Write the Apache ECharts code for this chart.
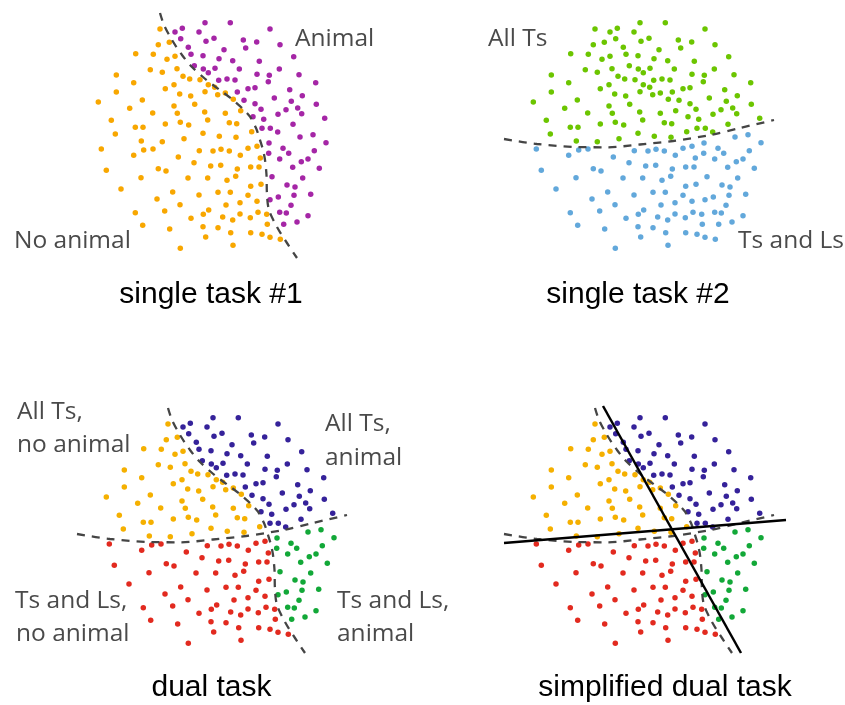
<!DOCTYPE html>
<html><head><meta charset="utf-8">
<script src="https://cdn.jsdelivr.net/npm/echarts@6/dist/echarts.min.js"></script>
<style>html,body{margin:0;padding:0;background:#fff}#c{width:845px;height:705px}</style>
</head><body><div id="c"></div>
<script>
// Shared point cloud (same cloud in every panel), grouped by dual-task class.
// Coordinates are in the dual-task panel's pixel frame.
const dualOrange = [ // All Ts, no animal
[168.0,424.0],[177.3,437.3],[166.3,439.7],[143.7,448.7],[161.3,449.3],[183.0,451.3],[175.0,454.3],[158.3,464.7],[170.3,467.3],[185.0,463.7],
[124.3,470.0],[191.0,471.3],[197.7,474.0],[208.0,474.7],[141.7,477.7],[182.0,479.7],[173.3,483.7],[216.3,479.7],[213.0,486.7],[124.3,487.0],
[187.7,489.0],[198.7,491.0],[150.3,495.0],[106.3,497.0],[182.0,501.0],[202.7,499.3],[137.7,503.3],[160.7,508.0],[185.3,508.3],[212.7,507.0],
[119.3,515.3],[173.3,519.0],[188.3,517.3],[196.7,520.0],[215.7,515.0],[143.3,522.3],[151.0,522.3],
[222.7,482.3],[225.7,489.7],[233.3,488.0],[241.3,494.3],[233.3,508.3],[248.7,505.7],[237.3,517.7],[244.7,518.7],
[123.3,529.0],[149.3,536.0],[170.3,536.7],[192.0,533.7],[211.0,528.3],[227.3,531.3],[244.0,532.3],[259.7,526.7]
];
const dualPurple = [ // All Ts, animal
[190.3,423.3],[213.0,417.7],[183.0,427.0],[207.0,427.0],[188.7,433.7],[214.0,436.3],[196.3,442.3],[199.0,449.3],[211.0,450.7],[202.3,460.7],
[211.3,464.0],[216.3,467.7],
[238.3,417.7],[278.0,424.0],[222.0,433.3],[251.3,435.0],[264.7,437.0],[288.0,439.7],[253.7,443.0],[232.0,444.7],[301.7,451.7],[227.0,453.7],
[240.7,455.7],[267.3,456.3],[223.0,463.3],[247.3,464.0],[287.3,464.0],[265.0,469.3],[277.3,470.3],[307.0,469.7],[226.7,475.3],[235.0,474.0],
[243.0,475.0],[276.3,476.7],[323.7,477.7],[256.0,483.7],[263.0,482.7],[297.7,484.7],[245.3,487.0],[282.3,493.0],[310.3,490.7],[252.0,495.3],
[299.3,496.3],[263.0,498.7],[324.3,499.3],[269.0,504.3],[294.0,504.7],[305.7,503.0],[309.7,508.7],[286.0,509.3],[261.0,511.7],[271.7,514.3],
[332.7,513.3],[301.0,519.3],[270.0,523.3],[278.3,523.3],[285.7,527.0]
];
const dualRed = [ // Ts and Ls, no animal
[109.3,544.0],[141.7,550.3],[151.7,545.0],[161.0,544.0],[186.3,552.0],[207.3,545.7],[202.0,557.7],[218.7,561.0],[114.3,565.3],[166.3,563.7],
[174.0,566.0],[149.0,572.7],[196.0,573.0],[215.7,573.0],[129.0,584.0],[180.7,587.0],[207.0,590.0],[165.0,594.0],[188.0,599.7],[143.3,607.7],
[172.7,606.0],[216.7,605.0],[211.3,609.3],[199.0,613.3],[150.7,620.3],[177.7,624.0],[211.0,621.7],[213.7,632.0],[188.3,643.3],
[221.0,546.0],[229.0,544.3],[237.3,546.0],[256.0,543.3],[265.0,541.3],[248.3,550.3],[268.3,553.0],[228.7,560.3],[245.3,564.0],[258.7,562.0],
[267.0,562.0],[243.7,571.3],[235.0,575.3],[269.0,579.3],[258.7,581.3],[226.0,587.3],[238.3,587.3],[256.0,590.3],[265.0,596.3],[248.0,597.7],
[234.0,600.0],[266.0,607.3],[248.0,609.0],[274.7,609.3],[230.7,612.0],[258.3,612.7],[240.7,615.0],[275.3,619.3],[226.0,622.7],[238.7,627.7],
[258.7,627.7],[270.0,629.3],[278.0,632.3],[288.3,634.3],[241.0,640.3]
];
const dualGreen = [ // Ts and Ls, animal
[308.0,532.0],[321.0,529.7],[334.0,537.7],[277.0,538.0],[291.0,543.3],[322.3,545.7],[276.7,548.3],[296.7,548.3],[287.7,554.0],[309.3,556.7],
[316.0,554.0],[300.7,562.3],[327.3,563.3],[280.0,571.7],[310.7,573.0],[295.0,580.0],[303.0,582.0],[302.0,590.3],[318.7,589.3],[286.3,592.0],
[278.0,594.7],[299.0,600.3],[287.7,607.3],[294.3,608.0],[316.0,610.7],[305.0,617.0],[291.7,619.3]
];
// Decision boundaries
const boundaryAnimal = [[168,408],[172,420],[180,435],[190,450],[200,462],[211,472],[221,480],[232,488],[241,495],[250,503],[258,511.7],
  [264,523],[268,535],[271,545],[273,555],[274.5,570],[275,590],[277,605],[285,622],[295,638],[305,653]];
const boundaryTs = [[77,534],[110,539],[150,542],[180,542.3],[213,539.5],[246,536],[283,530],[313,523],[347,515]];
const simplifiedAnimal = [[176,406],[314,653]];
const simplifiedTs = [[77,543],[359,520]];

const panelTitles = ['single task #1', 'single task #2', 'dual task', 'simplified dual task'];
const panelLabels = [
  [['Animal', 295, 49], ['No animal', 14, 251]],
  [['All Ts', 488, 49], ['Ts and Ls', 738, 251]],
  [['All Ts,', 17, 422], ['no animal', 17, 455], ['All Ts,', 325, 434], ['animal', 325, 468],
   ['Ts and Ls,', 15, 611], ['no animal', 16, 644], ['Ts and Ls,', 337, 611], ['animal', 337, 644]],
  []
];
const titlePos = [[211, 305], [638, 305], [211.5, 698], [665, 698]];

const C = {
  orange1: '#F8A700', purple1: '#A526A6', green2: '#6CC500', blue2: '#62A8DB',
  orange: '#F5B000', purple: '#35229A', red: '#E22A1F', green: '#12A838', dash: '#454545'
};

const grids = [
  {left: 0, top: 0, width: 420, height: 310},
  {left: 427, top: 0, width: 418, height: 310},
  {left: 0, top: 380, width: 420, height: 325},
  {left: 427, top: 380, width: 418, height: 325}
];
const xRanges = [[8, 428], [0, 418], [0, 420], [0, 418]];
const yRanges = [[395, 705], [395, 705], [380, 705], [380, 705]];

function scatter(gi, data, color) {
  return {type: 'scatter', xAxisIndex: gi, yAxisIndex: gi, data: data, symbolSize: 5.5,
    itemStyle: {color: color, opacity: 1}, silent: true, z: 2};
}
function line(gi, data, color, dashed, width) {
  return {type: 'line', xAxisIndex: gi, yAxisIndex: gi, data: data, symbol: 'none', silent: true, z: 3,
    smooth: dashed ? 0.3 : false,
    lineStyle: {color: color, width: width, type: dashed ? [8, 7] : 'solid', cap: 'butt'}};
}

const series = [
  scatter(0, dualOrange.concat(dualRed), C.orange1),
  scatter(0, dualPurple.concat(dualGreen), C.purple1),
  line(0, boundaryAnimal, C.dash, true, 2.3),
  scatter(1, dualOrange.concat(dualPurple), C.green2),
  scatter(1, dualRed.concat(dualGreen), C.blue2),
  line(1, boundaryTs, C.dash, true, 2.3),
  scatter(2, dualOrange, C.orange), scatter(2, dualPurple, C.purple),
  scatter(2, dualRed, C.red), scatter(2, dualGreen, C.green),
  line(2, boundaryAnimal, C.dash, true, 2.3), line(2, boundaryTs, C.dash, true, 2.3),
  scatter(3, dualOrange, C.orange), scatter(3, dualPurple, C.purple),
  scatter(3, dualRed, C.red), scatter(3, dualGreen, C.green),
  line(3, boundaryAnimal, C.dash, true, 2.3), line(3, boundaryTs, C.dash, true, 2.3),
  line(3, simplifiedAnimal, '#000', false, 2.5), line(3, simplifiedTs, '#000', false, 2.5)
];

const graphics = [];
panelLabels.forEach(function (list) {
  list.forEach(function (l) {
    graphics.push({type: 'text', x: l[1], y: l[2] - 9.5, silent: true,
      style: {text: l[0], font: '24.5px "Open Sans"', fill: '#4a4a4a', textAlign: 'left', align: 'left',
        textVerticalAlign: 'middle', verticalAlign: 'middle'}});
  });
});
panelTitles.forEach(function (t, i) {
  graphics.push({type: 'text', x: titlePos[i][0], y: titlePos[i][1] - 10.5, silent: true,
    style: {text: t, font: '30px "Liberation Sans"', fill: '#000', textAlign: 'center', align: 'center',
      textVerticalAlign: 'middle', verticalAlign: 'middle'}});
});

const chart = echarts.init(document.getElementById('c'), null, {renderer: 'canvas'});
chart.setOption({
  animation: false,
  backgroundColor: '#fff',
  grid: grids,
  xAxis: grids.map(function (g, i) {
    return {type: 'value', gridIndex: i, min: xRanges[i][0], max: xRanges[i][1], show: false};
  }),
  yAxis: grids.map(function (g, i) {
    return {type: 'value', gridIndex: i, min: yRanges[i][0], max: yRanges[i][1], inverse: true, show: false};
  }),
  series: series,
  graphic: graphics
});
</script></body></html>
